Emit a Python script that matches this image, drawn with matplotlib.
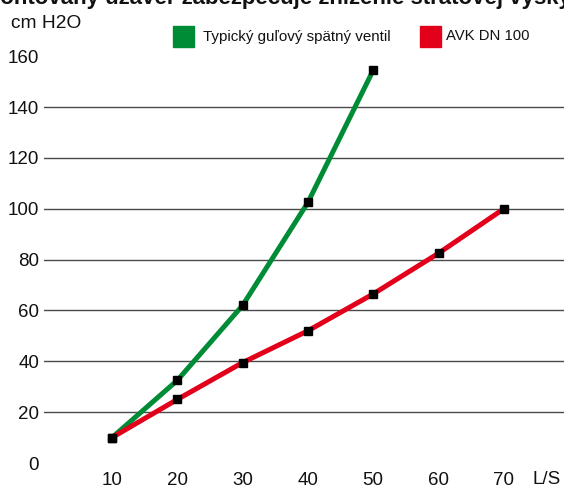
import matplotlib.pyplot as plt

plt.rcParams['font.family'] = ['Liberation Sans', 'DejaVu Sans']

flow = [10, 20, 30, 40, 50, 60, 70]
ball_valve = [10, 32.5, 62, 102.5, 154.5]
avk_dn100 = [10, 25, 39.5, 52, 66.5, 82.5, 100]
y_ticks = [0, 20, 40, 60, 80, 100, 120, 140, 160]
grid_vals = [20, 40, 60, 80, 100, 120, 140]

green = '#008c36'
red = '#e2001a'
ink = '#111111'

fig = plt.figure(figsize=(5.64, 4.88), dpi=100)
ax = fig.add_axes([44 / 564, 25 / 488, 520 / 564, 425 / 488])
ax.set_xlim((44 - 46.7) / 6.53, (564 - 46.7) / 6.53)
ax.set_ylim(0, 425 / 2.542)

for v in grid_vals:
    ax.axhline(v, color='#4a4a4a', linewidth=1.0, zorder=1)

ax.plot(flow[:len(ball_valve)], ball_valve, color=green, linewidth=3.6,
        marker='s', markersize=6.3, markerfacecolor='black',
        markeredgecolor='black', zorder=3, clip_on=False)
ax.plot(flow, avk_dn100, color=red, linewidth=3.6,
        marker='s', markersize=6.3, markerfacecolor='black',
        markeredgecolor='black', zorder=4, clip_on=False)

for s in ax.spines.values():
    s.set_visible(False)
ax.set_xticks(flow)
ax.set_xticklabels([str(v) for v in flow])
ax.set_yticks(y_ticks)
ax.set_yticklabels([str(v) for v in y_ticks])
ax.tick_params(axis='both', length=0, labelsize=13.5, colors=ink)
ax.tick_params(axis='y', pad=3.5)
ax.tick_params(axis='x', pad=6.5)

fig.text(11 / 564, 1 - 23.5 / 488, 'cm H2O', fontsize=13.8, va='center',
         ha='left', color=ink)
fig.text(532 / 564, 1 - 480 / 488, 'L/S', fontsize=13.5, va='center',
         ha='left', color=ink)

# legend drawn by hand as in the original
fig.patches.append(plt.Rectangle((173 / 564, 1 - 47 / 488), 21 / 564, 21 / 488,
                                 transform=fig.transFigure, color=green))
fig.text(203 / 564, 1 - 36.5 / 488, 'Typický guľový spätný ventil', fontsize=10.9,
         va='center', ha='left', color=ink)
fig.patches.append(plt.Rectangle((420 / 564, 1 - 47 / 488), 21 / 564, 21 / 488,
                                 transform=fig.transFigure, color=red))
fig.text(446 / 564, 1 - 36.5 / 488, 'AVK DN 100', fontsize=10.7,
         va='center', ha='left', color=ink)

fig.text(-48 / 564, 1 - 4 / 488,
         'Namontovaný uzáver zabezpečuje zníženie stratovej výšky',
         fontsize=16, fontweight='bold', ha='left', va='baseline',
         color=ink)

fig.savefig('out.png', dpi=100)
